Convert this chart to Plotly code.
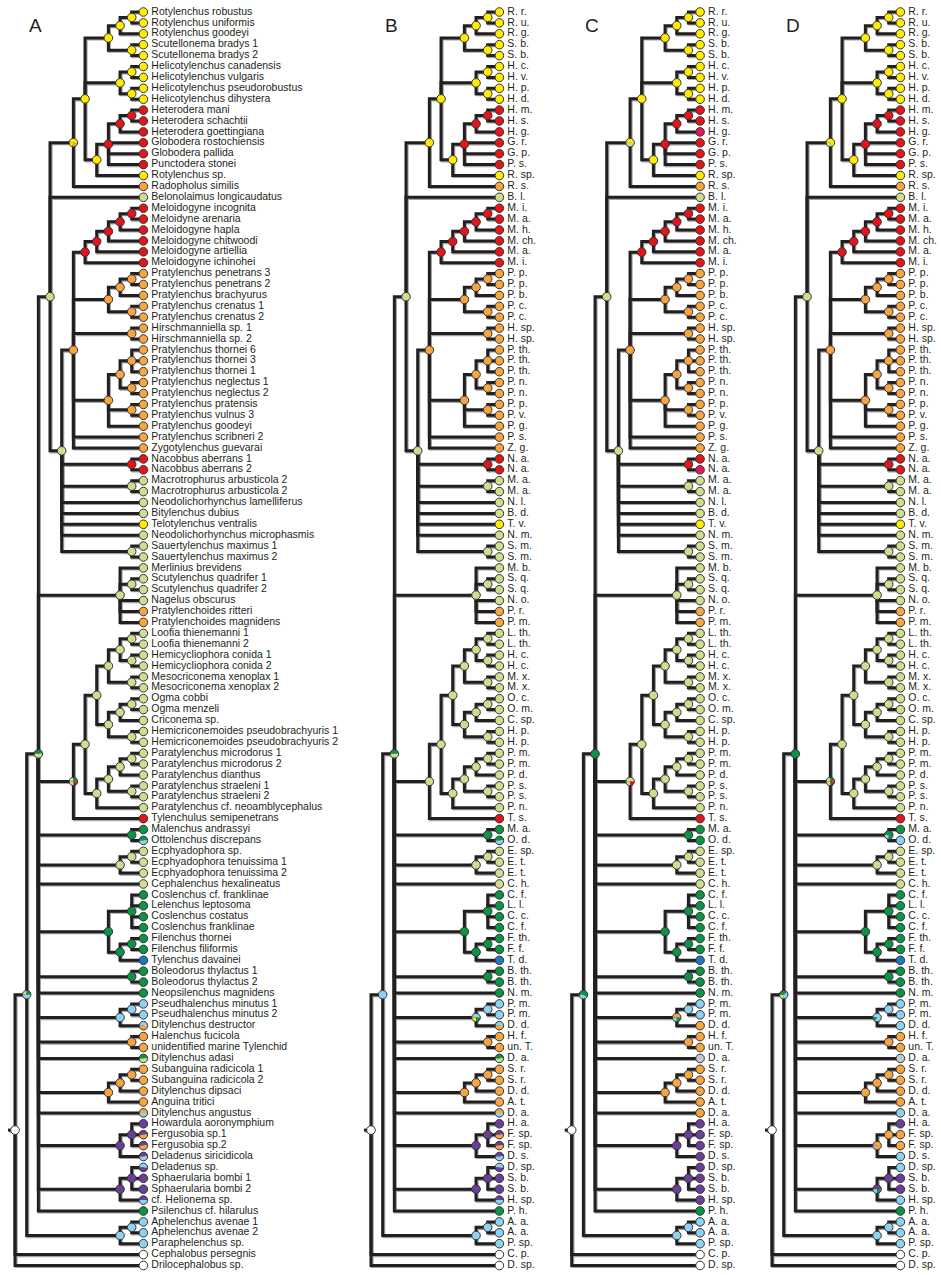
import math
import plotly.graph_objects as go

# ---------------- data ----------------
TIP_NAMES = [
    "Rotylenchus robustus", "Rotylenchus uniformis", "Rotylenchus goodeyi", "Scutellonema bradys 1",
    "Scutellonema bradys 2", "Helicotylenchus canadensis", "Helicotylenchus vulgaris",
    "Helicotylenchus pseudorobustus", "Helicotylenchus dihystera", "Heterodera mani",
    "Heterodera schachtii", "Heterodera goettingiana", "Globodera rostochiensis", "Globodera pallida",
    "Punctodera stonei", "Rotylenchus sp.", "Radopholus similis", "Belonolaimus longicaudatus",
    "Meloidogyne incognita", "Meloidyne arenaria", "Meloidogyne hapla", "Meloidogyne chitwoodi",
    "Meloidogyne artiellia", "Meloidogyne ichinohei", "Pratylenchus penetrans 3",
    "Pratylenchus penetrans 2", "Pratylenchus brachyurus", "Pratylenchus crenatus 1",
    "Pratylenchus crenatus 2", "Hirschmanniella sp. 1", "Hirschmanniella sp. 2",
    "Pratylenchus thornei 6", "Pratylenchus thornei 3", "Pratylenchus thornei 1",
    "Pratylenchus neglectus 1", "Pratylenchus neglectus 2", "Pratylenchus pratensis",
    "Pratylenchus vulnus 3", "Pratylenchus goodeyi", "Pratylenchus scribneri 2",
    "Zygotylenchus guevarai", "Nacobbus aberrans 1", "Nacobbus aberrans 2",
    "Macrotrophurus arbusticola 2", "Macrotrophurus arbusticola 2", "Neodolichorhynchus lamelliferus",
    "Bitylenchus dubius", "Telotylenchus ventralis", "Neodolichorhynchus microphasmis",
    "Sauertylenchus maximus 1", "Sauertylenchus maximus 2", "Merlinius brevidens",
    "Scutylenchus quadrifer 1", "Scutylenchus quadrifer 2", "Nagelus obscurus",
    "Pratylenchoides ritteri", "Pratylenchoides magnidens", "Loofia thienemanni 1",
    "Loofia thienemanni 2", "Hemicycliophora conida 1", "Hemicycliophora conida 2",
    "Mesocriconema xenoplax 1", "Mesocriconema xenoplax 2", "Ogma cobbi", "Ogma menzeli",
    "Criconema sp.", "Hemicriconemoides pseudobrachyuris 1", "Hemicriconemoides pseudobrachyuris 2",
    "Paratylenchus microdorus 1", "Paratylenchus microdorus 2", "Paratylenchus dianthus",
    "Paratylenchus straeleni 1", "Paratylenchus straeleni 2", "Paratylenchus cf. neoamblycephalus",
    "Tylenchulus semipenetrans", "Malenchus andrassyi", "Ottolenchus discrepans",
    "Ecphyadophora sp.", "Ecphyadophora tenuissima 1", "Ecphyadophora tenuissima 2",
    "Cephalenchus hexalineatus", "Coslenchus cf. franklinae", "Lelenchus leptosoma",
    "Coslenchus costatus", "Coslenchus franklinae", "Filenchus thornei", "Filenchus filiformis",
    "Tylenchus davainei", "Boleodorus thylactus 1", "Boleodorus thylactus 2",
    "Neopsilenchus magnidens", "Pseudhalenchus minutus 1", "Pseudhalenchus minutus 2",
    "Ditylenchus destructor", "Halenchus fucicola", "unidentified marine Tylenchid",
    "Ditylenchus adasi", "Subanguina radicicola 1", "Subanguina radicicola 2", "Ditylenchus dipsaci",
    "Anguina tritici", "Ditylenchus angustus", "Howardula aoronymphium", "Fergusobia sp.1",
    "Fergusobia sp.2", "Deladenus siricidicola", "Deladenus sp.", "Sphaerularia bombi 1",
    "Sphaerularia bombi 2", "cf. Helionema sp.", "Psilenchus cf. hilarulus", "Aphelenchus avenae 1",
    "Aphelenchus avenae 2", "Paraphelenchus sp.", "Cephalobus persegnis", "Drilocephalobus sp.",
]

TIP_ABBR = [
    "R. r.", "R. u.", "R. g.", "S. b.", "S. b.", "H. c.", "H. v.", "H. p.", "H. d.", "H. m.",
    "H. s.", "H. g.", "G. r.", "G. p.", "P. s.", "R. sp.", "R. s.", "B. l.", "M. i.", "M. a.",
    "M. h.", "M. ch.", "M. a.", "M. i.", "P. p.", "P. p.", "P. b.", "P. c.", "P. c.", "H. sp.",
    "H. sp.", "P. th.", "P. th.", "P. th.", "P. n.", "P. n.", "P. p.", "P. v.", "P. g.", "P. s.",
    "Z. g.", "N. a.", "N. a.", "M. a.", "M. a.", "N. l.", "B. d.", "T. v.", "N. m.", "S. m.",
    "S. m.", "M. b.", "S. q.", "S. q.", "N. o.", "P. r.", "P. m.", "L. th.", "L. th.", "H. c.",
    "H. c.", "M. x.", "M. x.", "O. c.", "O. m.", "C. sp.", "H. p.", "H. p.", "P. m.", "P. m.",
    "P. d.", "P. s.", "P. s.", "P. n.", "T. s.", "M. a.", "O. d.", "E. sp.", "E. t.", "E. t.",
    "C. h.", "C. f.", "L. l.", "C. c.", "C. f.", "F. th.", "F. f.", "T. d.", "B. th.", "B. th.",
    "N. m.", "P. m.", "P. m.", "D. d.", "H. f.", "un. T.", "D. a.", "S. r.", "S. r.", "D. d.",
    "A. t.", "D. a.", "H. a.", "F. sp.", "F. sp.", "D. s.", "D. sp.", "S. b.", "S. b.", "H. sp.",
    "P. h.", "A. a.", "A. a.", "P. sp.", "C. p.", "D. sp.",
]

# tree topology: internal node -> children (ints = tip numbers, 1-based)
CHILDREN = {
    "root": ["L1", 115, 116],
    "L1": ["L2", "v0"], "v0": ["v1", 114], "v1": [112, 113],
    "L2": ["c0", "f1", "g0", "h0", "h1", 81, "k0", "l0", 91, "q0", "r0", 97,
           "s0", 102, "t0", "u0", 111],
    "c0": ["a9", 18, "d0"],
    "a9": ["a8", 17],
    "a8": ["a4", "a7", "b4"],
    "a4": ["a2", "a3"], "a2": ["a1", 3], "a1": [1, 2], "a3": [4, 5],
    "a7": ["a5", "a6"], "a5": [6, 7], "a6": [8, 9],
    "b4": ["b3", 16], "b3": ["b2", 13, 14, 15], "b2": ["b1", 12], "b1": [10, 11],
    "d0": ["e0", "d1", "d2", 46, 47, 48, 49, "d3"],
    "d1": [42, 43], "d2": [44, 45], "d3": [50, 51],
    "e0": ["m5", "p4", "p5", "p9", 40, 41],
    "m5": ["m4", 24], "m4": ["m3", 23], "m3": ["m2", 22], "m2": ["m1", 21], "m1": [19, 20],
    "p4": ["p2", "p3"], "p2": ["p1", 27], "p1": [25, 26], "p3": [28, 29],
    "p5": [30, 31],
    "p9": ["p8", "p7", 39], "p8": ["p6", "pn"], "p6": [32, 33, 34], "pn": [35, 36],
    "p7": [37, 38],
    "f1": [52, "f0", 55, 56, 57], "f0": [53, 54],
    "g0": ["g1", 75], "g1": ["g2", "g3"], "g2": ["g4", "g5"], "g4": ["g6", "g7"],
    "g6": ["g8", "g9"], "g8": [58, 59], "g9": [60, 61], "g7": [62, 63],
    "g5": ["g10", "g11"], "g10": ["g12", 66], "g12": [64, 65], "g11": [67, 68],
    "g3": ["g13", 74], "g13": ["g14", "g15"], "g14": ["g16", 71], "g16": [69, 70],
    "g15": [72, 73],
    "h0": [76, 77], "h1": ["h2", 80], "h2": [78, 79],
    "k0": ["k1", "k2"], "k1": [82, 83, 84, 85], "k2": ["k3", 88], "k3": [86, 87],
    "l0": [89, 90],
    "q0": ["q1", 94], "q1": [92, 93],
    "r0": [95, 96],
    "s0": ["s1", 101], "s1": ["s2", 100], "s2": [98, 99],
    "t0": ["t1", 106], "t1": [103, 104, 105],
    "u0": ["u1", 110], "u1": [107, 108, 109],
}

COLORS = {
    "Y": "#FFEC00", "R": "#E3141B", "O": "#F7A541", "G": "#CFDD8E", "D": "#0B9444",
    "B": "#8ED1F0", "U": "#1F78C1", "P": "#6B3F98", "W": "#FFFFFF", "X": "#C8C8C8",
    "K": "#E5195A",
}

TIP_STATES_A = (
    "Y Y Y Y Y Y Y Y Y R R R R R R Y O G R R R R R R "
    "O O O O O O O O O O O O O O O O O R R G G G G Y G "
    "G G G G G G O O G G G G G G G G G G G G G G G G G R "
    "D D|B G G G G D D D D D D U D D D B B B|O O O D|G "
    "O O O O O|B P P|O P|O P|B B|P P P P|B D B B B W W"
).split()

TIP_OVERRIDES = {
    "A": {},
    "B": {},
    "C": {12: "K", 43: "K", 77: "D", 94: "O", 97: "X", 102: "O", 103: "P", 104: "P",
          105: "P", 106: "P", 107: "P", 108: "P", 109: "P", 110: "P"},
    "D": {77: "B", 94: "B", 97: "X", 102: "B", 103: "P", 104: "O", 105: "O", 106: "B",
          107: "B", 108: "P", 109: "P", 110: "B"},
}

NODE_STATES_A = {
    **{k: "Y" for k in ["a1", "a2", "a3", "a4", "a5", "a6", "a7", "a8", "b4"]},
    **{k: "R" for k in ["b1", "b2", "b3", "m1", "m2", "m3", "m4", "m5", "d1"]},
    **{k: "O" for k in ["e0", "p1", "p2", "p3", "p4", "p5", "p6", "pn", "p7", "p8", "p9",
                        "r0", "s0", "s1", "s2"]},
    **{k: "G" for k in ["c0", "d0", "d2", "d3", "f0", "f1", "g1", "g2", "g3", "g4", "g5",
                        "g6", "g7", "g8", "g9", "g10", "g11", "g12", "g13", "g14", "g15",
                        "g16", "h1", "h2"]},
    **{k: "D" for k in ["h0", "k0", "k1", "k2", "k3", "l0"]},
    **{k: "B" for k in ["q0", "q1", "v0", "v1"]},
    **{k: "P" for k in ["t0", "t1", "u0", "u1"]},
    "root": "W",
    "a9": "Y:50|O:30|Y:20",
    "g0": "G:25|D:25|R:25|G:25",
    "L2": "D:50|G:50",
    "L1": "G:25|D:25|B:50",
}

NODE_OVERRIDES = {
    "A": {},
    "B": {"a9": "Y", "g0": "G", "q0": "B:50|D:25|Y:25", "L1": "B"},
    "C": {"a9": "Y:50|G:50", "g0": "G:50|R:25|G:25", "L2": "D",
          "q0": "O:50|D:25|B:25", "L1": "D:60|B:40"},
    "D": {"a9": "Y:70|G:30", "h0": "D:75|B:25", "q0": "B:85|D:15", "t1": "O",
          "t0": "O:85|B:15", "u0": "P:50|D:25|B:25", "L2": "D", "L1": "D:40|B:35|G:25"},
}

PANELS = ["A", "B", "C", "D"]

# ---------------- layout / style constants ----------------
ROOT_X = {"A": 15.0, "B": 371.0, "C": 571.7, "D": 772.0}
STEP = 11.67
Y0, DY = 12.0, 10.9
LABEL_DX = 8.0
STUB = 7.0
LINE_COLOR = "#231F20"
SHADOW_COLOR = "#A3A3A3"
LINE_W = 3
R_NODE = 4.3
FONT = "Liberation Sans, Arial, Helvetica, sans-serif"
LABEL_SIZE = 10.5

# ---------------- tree geometry ----------------
order = []


def traverse(n):
    if isinstance(n, int):
        order.append(n)
        return
    for c in CHILDREN[n]:
        traverse(c)


traverse("root")
tip_row = {t: i for i, t in enumerate(order)}

_h = {}


def height(n):
    if isinstance(n, int):
        return 0
    if n not in _h:
        _h[n] = 1 + max(height(c) for c in CHILDREN[n])
    return _h[n]


_y = {}


def ypos(n):
    if isinstance(n, int):
        return Y0 + tip_row[n] * DY
    if n not in _y:
        ys = [ypos(c) for c in CHILDREN[n]]
        _y[n] = (ys[0] + ys[-1]) / 2
    return _y[n]


H = height("root")
all_nodes = []


def collect(n):
    all_nodes.append(n)
    if not isinstance(n, int):
        for c in CHILDREN[n]:
            collect(c)


collect("root")


def parse_state(s):
    out = []
    for p in s.split("|"):
        if ":" in p:
            k, v = p.split(":")
            out.append((k, float(v)))
        else:
            out.append((p, 1.0))
    tot = sum(v for _, v in out)
    return [(k, v / tot) for k, v in out]


def wedge_path(cx, cy, r, t0, t1, n=18):
    pts = [(cx, cy)]
    for k in range(n + 1):
        t = math.radians(t0 + (t1 - t0) * k / n)
        pts.append((cx + r * math.cos(t), cy - r * math.sin(t)))
    return "M " + " L ".join(f"{x:.3f},{y:.3f}" for x, y in pts) + " Z"


fig = go.Figure()
shapes = []
annotations = []

for P in PANELS:
    rx = ROOT_X[P]

    def xpos(n):
        return rx + (H - height(n)) * STEP

    # branches
    lx, ly = [rx - STUB, rx, None], [ypos("root"), ypos("root"), None]
    for n in all_nodes:
        if isinstance(n, int):
            continue
        xn, yn = xpos(n), ypos(n)
        for c in CHILDREN[n]:
            lx += [xn, xn, xpos(c), None]
            ly += [yn, ypos(c), ypos(c), None]
    sx = [v + 1.1 if v is not None else None for v in lx]
    sy = [v + 1.1 if v is not None else None for v in ly]
    fig.add_trace(go.Scatter(x=sx, y=sy, mode="lines",
                             line=dict(color=SHADOW_COLOR, width=LINE_W),
                             hoverinfo="skip"))
    fig.add_trace(go.Scatter(x=lx, y=ly, mode="lines",
                             line=dict(color=LINE_COLOR, width=LINE_W),
                             hoverinfo="skip"))

    # node states
    tstates = list(TIP_STATES_A)
    for k, v in TIP_OVERRIDES[P].items():
        tstates[k - 1] = v
    nstates = dict(NODE_STATES_A)
    nstates.update(NODE_OVERRIDES[P])

    mx, my, mc = [], [], []
    for n in all_nodes:
        st = tstates[n - 1] if isinstance(n, int) else nstates[n]
        parts = parse_state(st)
        cx, cy = xpos(n), ypos(n)
        if len(parts) == 1:
            mx.append(cx)
            my.append(cy)
            mc.append(COLORS[parts[0][0]])
        else:
            ang = 180.0
            for k, f in parts:
                a1 = ang - 360.0 * f
                shapes.append(dict(type="path", path=wedge_path(cx, cy, R_NODE, ang, a1),
                                   xref="x", yref="y", fillcolor=COLORS[k],
                                   line=dict(width=0), layer="above"))
                ang = a1
            shapes.append(dict(type="circle", xref="x", yref="y",
                               x0=cx - R_NODE, x1=cx + R_NODE, y0=cy - R_NODE, y1=cy + R_NODE,
                               line=dict(color="#333333", width=1), fillcolor="rgba(0,0,0,0)",
                               layer="above"))
    fig.add_trace(go.Scatter(x=mx, y=my, mode="markers",
                             marker=dict(size=2 * R_NODE, color=mc,
                                         line=dict(color="#333333", width=1)),
                             hoverinfo="skip"))

    # labels
    names = TIP_NAMES if P == "A" else TIP_ABBR
    tx = [rx + H * STEP + LABEL_DX] * len(order)
    ty = [ypos(t) for t in order]
    tt = [names[t - 1] for t in order]
    fig.add_trace(go.Scatter(x=tx, y=ty, mode="text", text=tt, textposition="middle right",
                             textfont=dict(family=FONT, size=LABEL_SIZE, color=LINE_COLOR),
                             cliponaxis=False, hoverinfo="skip"))

    annotations.append(dict(x=rx + 11.5, y=25, xref="x", yref="y", text=P, showarrow=False,
                            xanchor="left", yanchor="middle",
                            font=dict(family=FONT, size=19, color=LINE_COLOR)))

fig.update_layout(
    width=941, height=1275, autosize=False,
    margin=dict(l=0, r=0, t=0, b=0, pad=0),
    paper_bgcolor="white", plot_bgcolor="white",
    showlegend=False,
    xaxis=dict(range=[0, 941], visible=False, fixedrange=True),
    yaxis=dict(range=[1275, 0], visible=False, fixedrange=True),
    shapes=shapes, annotations=annotations,
)

fig.write_html("out.html", config={"displayModeBar": False},
               post_script="document.body.style.margin='0px';document.body.style.padding='0px';")
